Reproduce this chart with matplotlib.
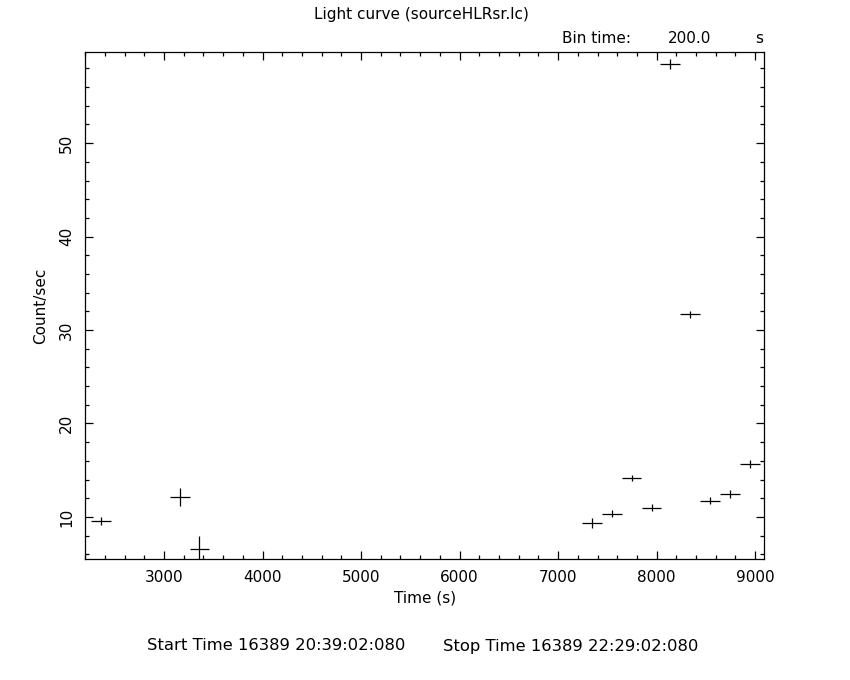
"""Light curve of sourceHLRsr.lc, redrawn in the lcurve/PGPLOT look."""

import matplotlib

matplotlib.use("Agg")
import matplotlib.pyplot as plt
from matplotlib.ticker import MultipleLocator

# bin centres (s), rates (count/s), half bin width and rate errors
time_s = [2360, 3160, 3360, 7343, 7546, 7746, 7949, 8139, 8340, 8541, 8741, 8944]
rate = [9.57, 12.14, 6.6, 9.33, 10.35, 14.14, 11.0, 58.45, 31.68, 11.74, 12.46, 15.67]
rate_err = [0.45, 0.95, 1.4, 0.5, 0.35, 0.35, 0.35, 0.57, 0.4, 0.35, 0.4, 0.45]
half_bin = [100] * len(time_s)

TITLE = "Light curve (sourceHLRsr.lc)"
START = "Start Time 16389 20:39:02:080"
STOP = "Stop Time 16389 22:29:02:080"

plt.rcParams["font.family"] = "DejaVu Sans"
FS = 11
LW = 0.9

fig = plt.figure(figsize=(8.5, 6.8), dpi=100)
ax = fig.add_axes([0.1, 0.178, 0.799, 0.7455])

ax.errorbar(time_s, rate, xerr=half_bin, yerr=rate_err, fmt="none",
            ecolor="black", elinewidth=LW, capsize=0)

ax.set_xlim(2198, 9091)
ax.set_ylim(5.5, 59.75)

ax.xaxis.set_major_locator(MultipleLocator(1000))
ax.xaxis.set_minor_locator(MultipleLocator(200))
ax.yaxis.set_major_locator(MultipleLocator(10))
ax.yaxis.set_minor_locator(MultipleLocator(2))
ax.tick_params(which="both", direction="in", top=True, right=True,
               width=LW, colors="black", labelsize=FS)
ax.tick_params(which="major", length=5.8, pad=8)
ax.tick_params(which="minor", length=2.9)
for lab in ax.get_yticklabels():
    lab.set_rotation(90)
    lab.set_va("center")
for sp in ax.spines.values():
    sp.set_linewidth(LW)

ax.set_xlabel("Time (s)", fontsize=FS, labelpad=4)
ax.set_ylabel("Count/sec", fontsize=FS, labelpad=8)

fig.text(0.496, 0.979, TITLE, ha="center", va="center", fontsize=FS)
fig.text(0.661, 0.944, "Bin time:", ha="left", va="center", fontsize=FS)
fig.text(0.786, 0.944, "200.0", ha="left", va="center", fontsize=FS)
fig.text(0.888, 0.944, "s", ha="left", va="center", fontsize=FS)
fig.text(0.173, 0.05, START, ha="left", va="center", fontsize=11.8)
fig.text(0.521, 0.05, STOP, ha="left", va="center", fontsize=11.8)

fig.savefig("out.png", dpi=100, facecolor="white")
